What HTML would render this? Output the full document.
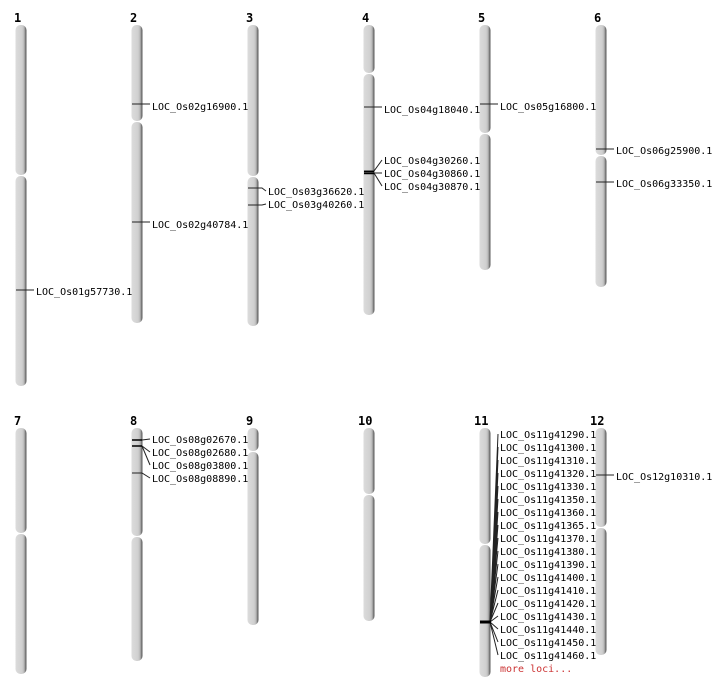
<!DOCTYPE html>
<html><head><meta charset="utf-8"><style>
html,body{margin:0;padding:0;background:#fff;}
svg{display:block;}
.n{font-family:"DejaVu Sans Mono","Liberation Mono",monospace;font-weight:bold;font-size:12px;fill:#000;}
.t{font-family:"DejaVu Sans Mono","Liberation Mono",monospace;font-size:10px;fill:#000;dominant-baseline:middle;}
.m{stroke:#222;stroke-width:1;fill:none;}
</style></head><body>
<svg width="712" height="700" viewBox="0 0 712 700" xmlns="http://www.w3.org/2000/svg">
<defs>
<linearGradient id="g" x1="0" x2="1" y1="0" y2="0">
<stop offset="0" stop-color="#dcdcdc"/><stop offset="0.6" stop-color="#d0d0d0"/><stop offset="0.78" stop-color="#b8b8b8"/><stop offset="0.9" stop-color="#7a7a7a"/><stop offset="1" stop-color="#555"/>
</linearGradient>
</defs>
<g fill="url(#g)">
<rect x="15.5" y="25" width="11" height="150" rx="5"/><rect x="15.5" y="176" width="11" height="210" rx="5"/>
<rect x="131.5" y="25" width="11" height="96" rx="5"/><rect x="131.5" y="122" width="11" height="201" rx="5"/>
<rect x="247.5" y="25" width="11" height="151" rx="5"/><rect x="247.5" y="177" width="11" height="149" rx="5"/>
<rect x="363.5" y="25" width="11" height="48" rx="5"/><rect x="363.5" y="74" width="11" height="241" rx="5"/>
<rect x="479.5" y="25" width="11" height="108" rx="5"/><rect x="479.5" y="134" width="11" height="136" rx="5"/>
<rect x="595.5" y="25" width="11" height="130" rx="5"/><rect x="595.5" y="156" width="11" height="131" rx="5"/>
<rect x="15.5" y="428" width="11" height="105" rx="5"/><rect x="15.5" y="534" width="11" height="140" rx="5"/>
<rect x="131.5" y="428" width="11" height="108" rx="5"/><rect x="131.5" y="537" width="11" height="124" rx="5"/>
<rect x="247.5" y="428" width="11" height="23" rx="5"/><rect x="247.5" y="452" width="11" height="173" rx="5"/>
<rect x="363.5" y="428" width="11" height="66" rx="5"/><rect x="363.5" y="495" width="11" height="126" rx="5"/>
<rect x="479.5" y="428" width="11" height="116" rx="5"/><rect x="479.5" y="545" width="11" height="132" rx="5"/>
<rect x="595.5" y="428" width="11" height="99" rx="5"/><rect x="595.5" y="528" width="11" height="127" rx="5"/>
</g>
<g class="n">
<text x="14" y="22">1</text><text x="130" y="22">2</text><text x="246" y="22">3</text><text x="362" y="22">4</text><text x="478" y="22">5</text><text x="594" y="22">6</text>
<text x="14" y="425">7</text><text x="130" y="425">8</text><text x="246" y="425">9</text><text x="358" y="425">10</text><text x="474" y="425">11</text><text x="590" y="425">12</text>
</g>
<g class="m">
<path d="M16 290H34"/>
<path d="M132 104H150"/><path d="M132 222H150"/>
<path d="M248 188H262L266 191"/><path d="M248 205H262L266 204"/>
<path d="M364 107H382"/>
<path d="M364 171H374L382 160"/><path d="M364 173H382"/><path d="M374 173L382 186"/>
<path d="M480 104H498"/>
<path d="M596 149H614"/><path d="M596 182H614"/>
<path d="M132 440H142L150 439"/><path d="M132 446H142L150 452"/><path d="M142 446L150 465"/><path d="M132 473H142L150 478"/>
<path d="M596 475H614"/>
<path d="M490 622L498 434M490 622L498 447M490 622L498 460M490 622L498 473M490 622L498 486M490 622L498 499M490 622L498 512M490 622L498 525M490 622L498 538M490 622L498 551M490 622L498 564M490 622L498 577M490 622L498 590M490 622L498 603M490 622L498 616M490 622L498 629M490 622L498 642M490 622L498 655"/>
</g>
<path d="M364 171.5H374M364 173.5H374" stroke="#000" stroke-width="1.5"/>
<path d="M132 440H142M132 446H142" stroke="#000" stroke-width="1.5"/>
<path d="M480 622H491" stroke="#000" stroke-width="3"/>
<g class="t" transform="translate(0,1)">
<text x="36" y="291">LOC_Os01g57730.1</text>
<text x="152" y="106">LOC_Os02g16900.1</text>
<text x="152" y="224">LOC_Os02g40784.1</text>
<text x="268" y="191">LOC_Os03g36620.1</text>
<text x="268" y="204">LOC_Os03g40260.1</text>
<text x="384" y="109">LOC_Os04g18040.1</text>
<text x="384" y="160">LOC_Os04g30260.1</text>
<text x="384" y="173">LOC_Os04g30860.1</text>
<text x="384" y="186">LOC_Os04g30870.1</text>
<text x="500" y="106">LOC_Os05g16800.1</text>
<text x="616" y="150">LOC_Os06g25900.1</text>
<text x="616" y="183">LOC_Os06g33350.1</text>
<text x="152" y="439">LOC_Os08g02670.1</text>
<text x="152" y="452">LOC_Os08g02680.1</text>
<text x="152" y="465">LOC_Os08g03800.1</text>
<text x="152" y="478">LOC_Os08g08890.1</text>
<text x="616" y="476">LOC_Os12g10310.1</text>
<text x="500" y="434">LOC_Os11g41290.1</text>
<text x="500" y="447">LOC_Os11g41300.1</text>
<text x="500" y="460">LOC_Os11g41310.1</text>
<text x="500" y="473">LOC_Os11g41320.1</text>
<text x="500" y="486">LOC_Os11g41330.1</text>
<text x="500" y="499">LOC_Os11g41350.1</text>
<text x="500" y="512">LOC_Os11g41360.1</text>
<text x="500" y="525">LOC_Os11g41365.1</text>
<text x="500" y="538">LOC_Os11g41370.1</text>
<text x="500" y="551">LOC_Os11g41380.1</text>
<text x="500" y="564">LOC_Os11g41390.1</text>
<text x="500" y="577">LOC_Os11g41400.1</text>
<text x="500" y="590">LOC_Os11g41410.1</text>
<text x="500" y="603">LOC_Os11g41420.1</text>
<text x="500" y="616">LOC_Os11g41430.1</text>
<text x="500" y="629">LOC_Os11g41440.1</text>
<text x="500" y="642">LOC_Os11g41450.1</text>
<text x="500" y="655">LOC_Os11g41460.1</text>
<text x="500" y="668" style="fill:#cc3333">more loci...</text>
</g>
</svg>
</body></html>
